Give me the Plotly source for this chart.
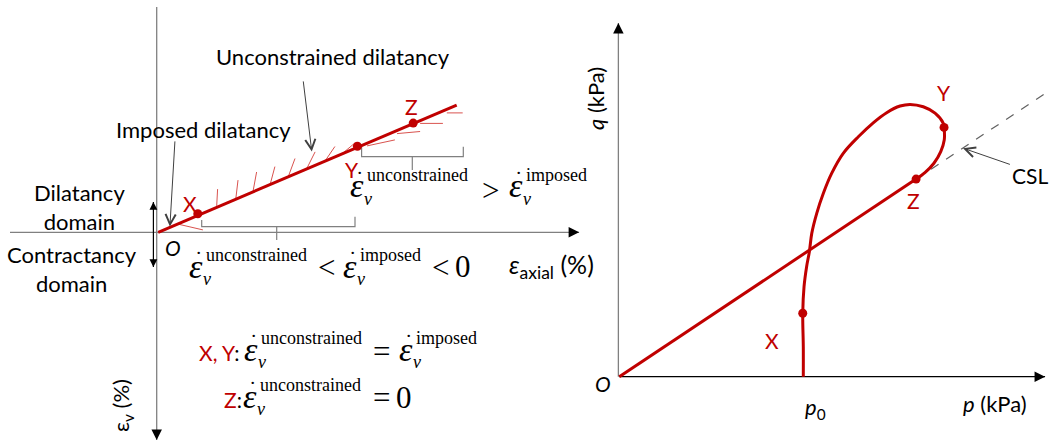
import plotly.graph_objects as go

W, H = 1062, 444
RED = "#C00000"
HATCH = "#D9534F"
GRAY = "#808080"
DARK = "#404040"
SANS = "Lato"
SERIF = "Liberation Serif"

# ---------------- Left diagram: eps_axial (%) vs dilatancy (%) ----------------
line_left_x = [0.05, 10.0]
line_left_y = [0.0, 4.24]
pts_left_names = ["X", "Y", "Z"]
pts_left_x = [1.37, 6.69, 8.55]
pts_left_y = [0.62, 2.87, 3.64]

# hatch ticks: start (on line) and end points
hatch_x0 = [0.68, 2.00, 2.64, 3.21, 3.78, 4.38, 4.98, 5.58, 6.11, 7.01, 8.01, 8.78, 9.67]
hatch_y0 = [0.28, 0.88, 1.14, 1.36, 1.59, 1.84, 2.08, 2.33, 2.56, 2.88, 3.29, 3.63, 3.98]
hatch_x1 = [1.54, 2.03, 2.71, 3.33, 3.94, 4.61, 5.28, 5.94, 6.61, 7.94, 8.78, 9.54, 10.20]
hatch_y1 = [0.08, 1.44, 1.74, 2.01, 2.19, 2.46, 2.68, 2.86, 2.98, 3.08, 3.36, 3.63, 3.98]

axis_left_h = [-4.89, 14.08]
axis_left_v = [7.51, -6.92]
domain_arrow_x = -0.11
domain_arrow_y = [1.01, -1.16]

bracket_low_x = [1.50, 1.50, 6.61, 6.61]
bracket_low_y = [0.41, 0.19, 0.19, 0.52]
bracket_low_mid_x = [4.00, 4.00]
bracket_low_mid_y = [0.19, -0.26]
bracket_up_x = [6.83, 6.83, 10.22, 10.22]
bracket_up_y = [2.85, 2.52, 2.52, 2.85]
bracket_up_mid_x = [8.52, 8.52]
bracket_up_mid_y = [2.52, 2.08]

ptr_unc = [(4.88, 5.08), (5.17, 2.69)]   # tail, head
ptr_imp = [(0.61, 3.08), (0.44, 0.19)]

# ---------------- Right diagram: p (kPa) vs q (kPa) ----------------
path_p = [100.0, 100.0, 99.7, 100.4, 101.8, 103.3, 104.6, 107.3, 110.9, 115.4, 121.7, 129.9,
          138.0, 145.3, 152.6, 158.0, 165.2, 171.6, 176.1, 176.5, 176.6, 174.7, 171.0, 166.1, 161.3]
path_q = [0.0, 16.3, 34.5, 48.9, 59.8, 67.9, 77.9, 88.8, 99.7, 110.5, 121.4, 130.4,
          138.0, 143.5, 147.1, 148.0, 146.7, 143.2, 137.7, 135.5, 128.6, 122.3, 116.0, 110.9, 107.4]
pts_right_names = ["X", "Y", "Z"]
pts_right_p = [99.7, 176.5, 161.3]
pts_right_q = [34.5, 135.5, 107.4]
csl_solid_p = [0.0, 161.3]
csl_solid_q = [0.0, 107.4]
csl_dash_p = [161.3, 231.0]
csl_dash_q = [107.4, 153.6]
axis_p = [0.0, 231.4]
axis_q = [0.0, 192.2]
ptr_csl = [(213.1, 115.1), (186.8, 124.2)]

# ---------------- figure ----------------
fig = go.Figure()

def seg(x, y, color, width, axes=("x", "y"), dash="solid", shape="linear"):
    fig.add_trace(go.Scatter(x=x, y=y, mode="lines", xaxis=axes[0], yaxis=axes[1],
                             line=dict(color=color, width=width, dash=dash, shape=shape),
                             hoverinfo="skip", showlegend=False))

# left axes
seg(axis_left_h, [0, 0], GRAY, 1.3)
seg([0, 0], axis_left_v, GRAY, 1.3)
seg([domain_arrow_x] * 2, domain_arrow_y, "black", 1.2)

# hatches
hx, hy = [], []
for a, b, c, d in zip(hatch_x0, hatch_y0, hatch_x1, hatch_y1):
    hx += [a, c, None]
    hy += [b, d, None]
seg(hx, hy, HATCH, 1.0)

# brackets
for bx, by in [(bracket_low_x, bracket_low_y), (bracket_low_mid_x, bracket_low_mid_y),
               (bracket_up_x, bracket_up_y), (bracket_up_mid_x, bracket_up_mid_y)]:
    seg(bx, by, GRAY, 1.2)

# red line and points
seg(line_left_x, line_left_y, RED, 3)
fig.add_trace(go.Scatter(x=pts_left_x, y=pts_left_y, mode="markers", xaxis="x", yaxis="y",
                         marker=dict(color=RED, size=9), hoverinfo="skip", showlegend=False))

# right axes
seg(axis_p, [0, 0], "black", 1.3, axes=("x2", "y2"))
seg([-0.5, -0.5], axis_q, GRAY, 1.3, axes=("x2", "y2"))
seg(csl_dash_p, csl_dash_q, "#606060", 1.2, axes=("x2", "y2"), dash="dash")
seg(csl_solid_p, csl_solid_q, RED, 3, axes=("x2", "y2"))
seg(path_p, path_q, RED, 3, axes=("x2", "y2"), shape="spline")
fig.add_trace(go.Scatter(x=pts_right_p, y=pts_right_q, mode="markers", xaxis="x2", yaxis="y2",
                         marker=dict(color=RED, size=9), hoverinfo="skip", showlegend=False))

ann = []

def arrow_px(x, y, ax, ay, xr, yr, color="black", head=2, size=1.5, width=1.4):
    ann.append(dict(x=x, y=y, xref=xr, yref=yr, ax=ax, ay=ay, showarrow=True,
                    arrowhead=head, arrowsize=size, arrowwidth=width, arrowcolor=color,
                    text="", standoff=0))

def arrow_data(tail, head, xr, yr, color=DARK, style=5, size=2.0, width=1.0):
    ann.append(dict(x=head[0], y=head[1], xref=xr, yref=yr, ax=tail[0], ay=tail[1],
                    axref=xr, ayref=yr, showarrow=True, arrowhead=style, arrowsize=size,
                    arrowwidth=width, arrowcolor=color, text="", standoff=0))

# axis arrowheads
arrow_px(axis_left_h[1], 0, -11, 0, "x", "y")
arrow_px(0, axis_left_v[1], 0, -11, "x", "y")
arrow_px(axis_p[1], 0, -11, 0, "x2", "y2")
arrow_px(-0.5, axis_q[1], 0, 11, "x2", "y2")
arrow_px(domain_arrow_x, domain_arrow_y[0], 0, 9, "x", "y", size=1.2, width=1.3)
arrow_px(domain_arrow_x, domain_arrow_y[1], 0, -9, "x", "y", size=1.2, width=1.3)

# pointer arrows
arrow_data(ptr_unc[0], ptr_unc[1], "x", "y")
arrow_data(ptr_imp[0], ptr_imp[1], "x", "y")
arrow_data(ptr_csl[0], ptr_csl[1], "x2", "y2")

def txt(s, x, y, size, color="black", family=SANS, xa="center", ya="middle", angle=0):
    ann.append(dict(text=s, x=x / W, y=1 - y / H, xref="paper", yref="paper",
                    showarrow=False, xanchor=xa, yanchor=ya, textangle=angle,
                    font=dict(size=size, color=color, family=family)))

# left text
txt("Unconstrained dilatancy", 333, 56, 22)
txt("Imposed dilatancy", 203, 129, 22)
txt("Dilatancy<br>domain", 79, 207, 22)
txt("Contractancy<br>domain", 72, 269, 22)
txt("<i>O</i>", 173, 248, 21)
for n, x, y in zip(pts_left_names, [190, 352, 411], [203, 169, 106]):
    txt(n, x, y, 21, RED)
txt("<i>ε</i><sub>axial</sub> (%)", 551, 266, 25)
txt("ε<sub>v</sub> (%)", 122, 406, 22, angle=-90)

def eps(xl, yc, sup, sz=34, ssz=18):
    txt("<i>ε</i>", xl, yc - 4, sz, family=SERIF, xa="left")
    txt("˙", xl + 6, yc - 12, 22, family=SERIF, xa="left")
    txt(sup, xl + 17, yc - 15, ssz, family=SERIF, xa="left")
    txt("<i>v</i>", xl + 14, yc + 9, ssz, family=SERIF, xa="left")

def op(s, xc, yc, sz=31):
    txt(s, xc, yc, sz, family=SERIF)

# expression 1
eps(187, 270, "unconstrained")
op("&lt;", 326, 267)
eps(341, 270, "imposed")
op("&lt;", 440, 267)
op("0", 463, 266)
# expression 2
eps(348, 190, "unconstrained")
op("&gt;", 490, 190)
eps(507, 190, "imposed")
# expression 3
txt("<span style='color:%s'>X, Y</span>:" % RED, 197, 352, 21, xa="left")
eps(242, 353, "unconstrained")
op("=", 381, 351)
eps(397, 353, "imposed")
# expression 4
txt("<span style='color:%s'>Z</span>:" % RED, 222, 399, 21, xa="left")
eps(241, 400, "unconstrained")
op("=", 381, 397)
op("0", 404, 397)

# right text
txt("<i>q</i> (kPa)", 595, 99, 22, angle=-90)
txt("<i>p</i> (kPa)", 995, 403, 22)
txt("<i>p</i><sub>0</sub>", 815, 408, 22)
txt("<i>O</i>", 603, 383, 21)
txt("CSL", 1030, 175, 21)
for n, x, y in zip(pts_right_names, [772, 944, 913], [340, 93, 200]):
    txt(n, x, y, 21, RED)

fig.update_layout(
    width=W, height=H, margin=dict(l=0, r=0, t=0, b=0),
    paper_bgcolor="white", plot_bgcolor="white", annotations=ann,
    xaxis=dict(domain=[0, 1], range=[-156.7 / 30, (W - 156.7) / 30], visible=False),
    yaxis=dict(domain=[0, 1], range=[-(H - 232.3) / 30, 232.3 / 30], visible=False),
    xaxis2=dict(domain=[0, 1], range=[-619.3 / 1.84, (W - 619.3) / 1.84], visible=False,
                overlaying="x", anchor="y2"),
    yaxis2=dict(domain=[0, 1], range=[-(H - 376.7) / 1.84, 376.7 / 1.84], visible=False,
                overlaying="y", anchor="x2"),
)
fig.write_html("out.html", config={"displayModeBar": False},
               post_script="document.body.style.margin='0';")
